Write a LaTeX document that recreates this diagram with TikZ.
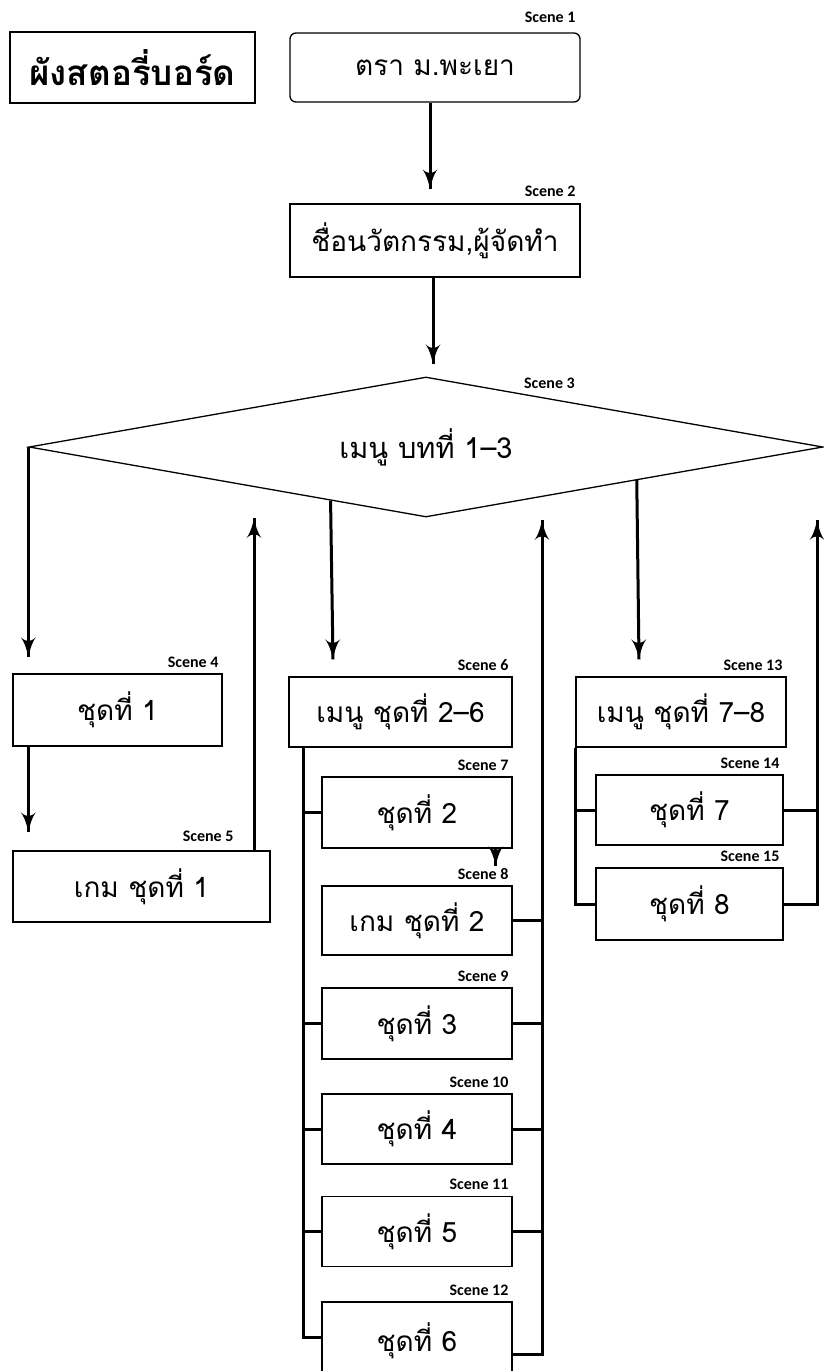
\documentclass[tikz,border=0pt]{standalone}
\usepackage{fontspec}
\newfontfamily\thaifont[Script=Thai]{Loma}
\newfontfamily\scenefont{Carlito}
\usepackage{tikz}
\usetikzlibrary{arrows}
\usetikzlibrary{decorations.markings}
\usetikzlibrary{shapes.geometric}
\usetikzlibrary{calc}
\usetikzlibrary{positioning}
\tikzset{->/.style = {decoration={markings,
                                  mark=at position 1 with {\arrow[scale=1.7]{latex'}}},
                      postaction={decorate}}}

\begin{document}
\begin{tikzpicture}[x=1pt, y=-1pt,
    box/.style={draw, line width=1.3pt, minimum width=190, minimum height=70,
                inner sep=0, font=\thaifont\fontsize{28}{32}\selectfont},
    scene/.style={anchor=south east, inner sep=0,
                  font=\scenefont\bfseries\fontsize{16}{18}\selectfont},
    conn/.style={line width=3pt}]
    \useasboundingbox (0,0) rectangle (823,1371);

    \node [box, minimum width=245, minimum height=71,
           font=\thaifont\bfseries\fontsize{35}{40}\selectfont] (title) at (132.5,67.5) {ผังสตอรี่บอร์ด};
    \node [box, rounded corners=6pt, minimum width=290, minimum height=69] (b1) at (435,67.5) {ตรา ม.พะเยา};
    \node [box, minimum width=290, minimum height=73] (b2) at (435,240.5) {ชื่อนวัตกรรม,ผู้จัดทำ};
    \node [draw, line width=1.3pt, diamond, aspect=5.7, inner sep=0,
           minimum width=794, minimum height=140,
           font=\thaifont\fontsize{29}{32}\selectfont] (menu) at (426,447) {เมนู บทที่ 1–3};

    \node [box, minimum width=209, minimum height=72] (b4) at (117.5,710) {ชุดที่ 1};
    \node [box, minimum width=257, minimum height=71] (b5) at (141.5,886.5) {เกม ชุดที่ 1};

    \node [box, minimum width=223] (b6) at (400.5,712) {เมนู ชุดที่ 2–6};
    \node [box, minimum height=71] (b7) at (417,812.5) {ชุดที่ 2};
    \node [box, minimum height=69] (b8) at (417,920.5) {เกม ชุดที่ 2};
    \node [box, minimum height=71] (b9) at (417,1023.5) {ชุดที่ 3};
    \node [box] (b10) at (417,1129) {ชุดที่ 4};
    \node [box] (b11) at (417,1231.5) {ชุดที่ 5};
    \node [box, minimum height=78] (b12) at (417,1341) {ชุดที่ 6};

    \node [box, minimum width=210] (b13) at (681,712) {เมนู ชุดที่ 7–8};
    \node [box, minimum width=187] (b14) at (689.5,810) {ชุดที่ 7};
    \node [box, minimum width=187, minimum height=72] (b15) at (689.5,904) {ชุดที่ 8};

    \node [scene] (l1) at ([xshift=-5pt, yshift=10pt]b1.north east) {Scene 1};
    \node [scene] (l2) at ([xshift=-5pt, yshift=6.5pt]b2.north east) {Scene 2};
    \node [scene] (l3) at (575,388.5) {Scene 3};
    \node [scene] (l5) at ([xshift=-37pt, yshift=8.5pt]b5.north east) {Scene 5};
    \foreach \n in {4,6,7,8,9,10,11,12,13,14,15}
        \node [scene] (l\n) at ([xshift=-4pt, yshift=6pt]b\n.north east) {Scene \n};

    \coordinate (up1) at (254,518);
    \coordinate (up2) at (542,520);
    \coordinate (up3) at (817,520);
    \coordinate (busL) at (303,747);

    \draw [conn, ->] ([xshift=-5pt]b1.south) -- ([xshift=-5pt, yshift=14pt]b2.north);
    \draw [conn, ->] ([xshift=-2pt]b2.south) -- ([xshift=-2pt, yshift=12pt]b2.south |- menu.north);

    \draw [conn, ->] (menu.west) -- ([yshift=16pt]b4.north -| menu.west);
    \draw [conn, ->] ($(menu.west)!0.76!(menu.south)$) -- ([yshift=17pt]b6.north -| 333,0);
    \draw [conn, ->] ($(menu.south)!0.53!(menu.east)$) -- ([yshift=17pt]b13.north -| 639,0);

    \draw [conn, ->] ([xshift=16pt]b4.south west) -- ([xshift=16pt, yshift=18pt]b5.north west);
    \draw [conn, ->] (b5.north -| up1) -- (up1);

    \draw [conn] (busL) |- ([yshift=4pt]b12.west);
    \foreach \n in {7,9,10,11}
        \draw [conn] (b\n.west) -- (b\n.west -| busL);
    \draw [conn, ->] ([xshift=-17pt]b7.south east) -- ([xshift=-17pt, yshift=19pt]b8.north east);
    \draw [conn, ->] ([yshift=-13pt]b12.east) -| (up2);
    \foreach \n in {8,9,10,11}
        \draw [conn] (b\n.east) -- (b\n.east -| up2);

    \draw [conn] (b13.south west) |- (b15.west);
    \draw [conn] (b14.west) -- (b14.west -| b13.south west);
    \draw [conn, ->] (b15.east) -| (up3);
    \draw [conn] (b14.east) -- (b14.east -| up3);
\end{tikzpicture}
\end{document}
